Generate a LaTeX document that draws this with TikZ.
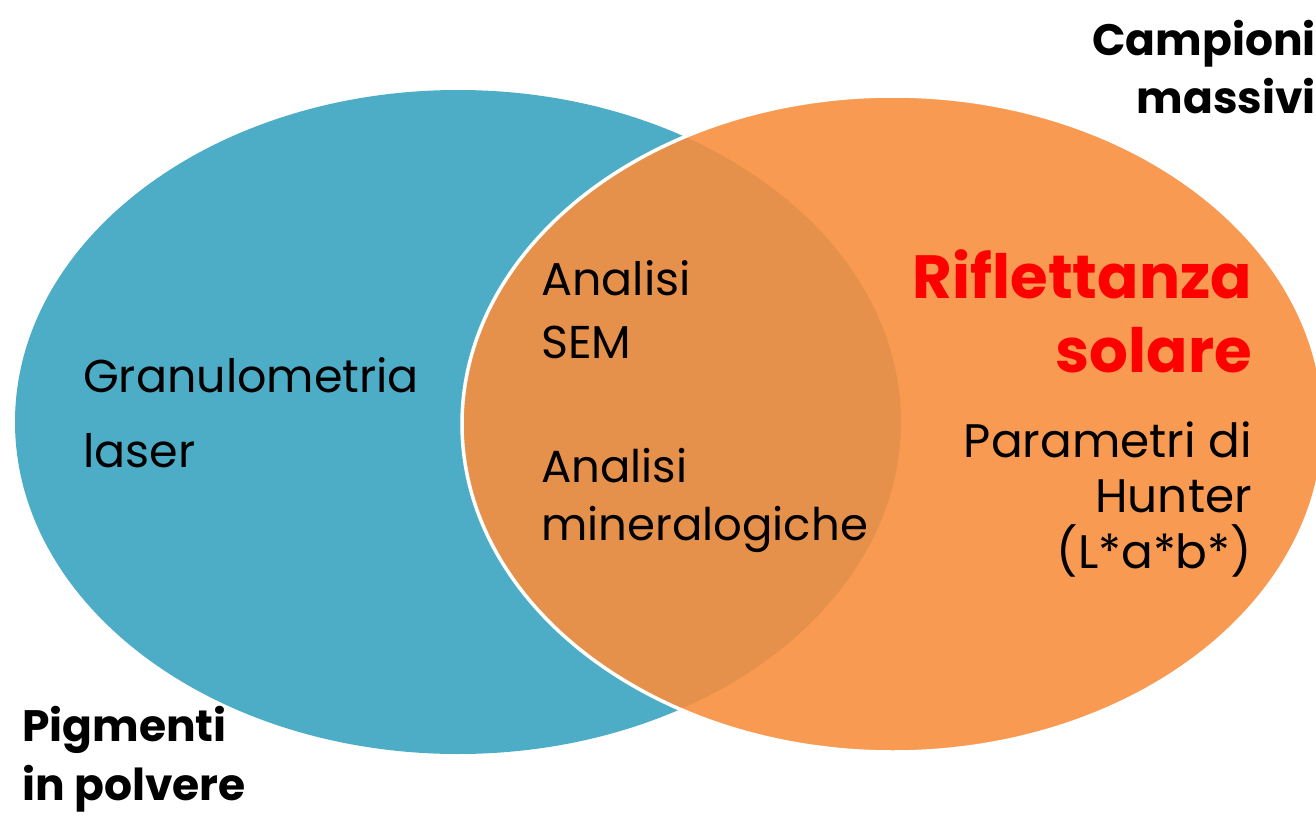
\documentclass[tikz,border=0pt]{standalone}
\usepackage{fontspec}
\setmainfont{Poppins}
\usetikzlibrary{shapes.geometric}
\definecolor{setblue}{HTML}{4DACC6}
\definecolor{setorange}{HTML}{F78F3E}
\definecolor{titlered}{HTML}{FF0000}
\tikzset{
  setshape/.style={ellipse, inner sep=0pt, outer sep=0pt},
  lbl/.style={inner sep=0pt, font=\fontsize{46}{58}\selectfont},
  grp/.style={inner sep=0pt, font=\fontsize{44}{59}\selectfont\bfseries},
  key/.style={inner sep=0pt, text=titlered, font=\fontsize{61}{74}\selectfont\bfseries}
}
\begin{document}
\begin{tikzpicture}[x=1pt,y=-1pt]
\useasboundingbox (0,0) rectangle (1316,816);
\clip (0,0) rectangle (1316,816);
\node[setshape, fill=setblue, minimum width=886pt, minimum height=664pt] (powder) at (458,422) {};
\node[setshape, fill=setorange, fill opacity=0.9, draw=white, line width=3.5pt, minimum width=862pt, minimum height=656pt] (bulk) at (893,424) {};
\node[lbl, font=\fontsize{46}{75}\selectfont, anchor=base west, align=left] (granulo) at (83,467) {Granulometria\\laser};
\node[lbl, font=\fontsize{46}{63}\selectfont, anchor=base west, align=left] (sem) at (541,358) {Analisi\\SEM};
\node[lbl, font=\fontsize{45}{58}\selectfont, anchor=base west, align=left] (mineral) at (541,540) {Analisi\\mineralogiche};
\node[key, anchor=base east, align=right] (riflet) at (1252,372) {Riflettanza\\solare};
\node[lbl, font=\fontsize{47}{55.5}\selectfont, anchor=base east, align=right] (hunter) at (1252,568) {Parametri di\\Hunter\\(L*a*b*)};
\node[grp, font=\fontsize{44}{58}\selectfont\bfseries, anchor=base east, align=right] (campioni) at (1316,113) {Campioni\\massivi};
\node[grp, font=\fontsize{44}{59}\selectfont\bfseries, anchor=base west, align=left] (pigmenti) at (22,800) {Pigmenti\\in polvere};
\end{tikzpicture}
\end{document}
